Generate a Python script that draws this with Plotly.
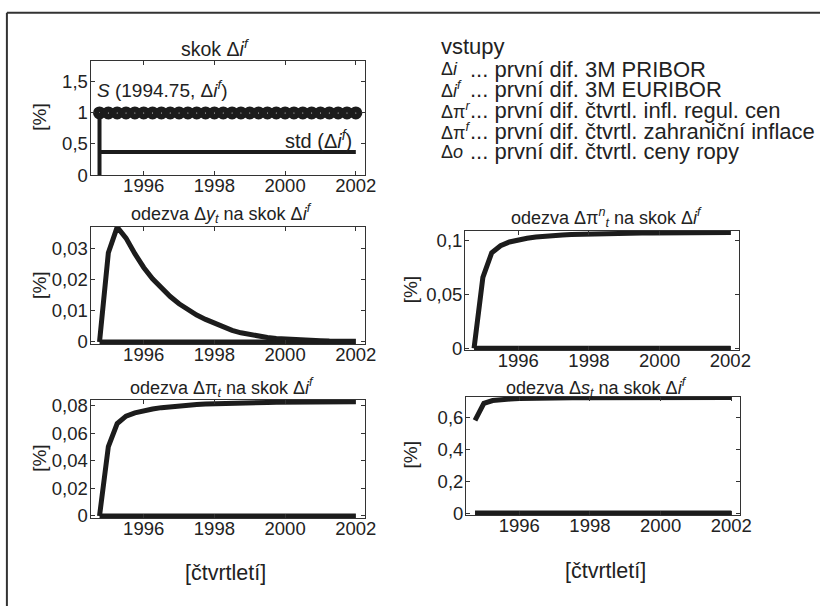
import plotly.graph_objects as go

W, H = 832, 616

# ---------------- data ----------------
quarters = [1994.75, 1995.0, 1995.25, 1995.5, 1995.75, 1996.0, 1996.25, 1996.5, 1996.75,
            1997.0, 1997.25, 1997.5, 1997.75, 1998.0, 1998.25, 1998.5, 1998.75, 1999.0,
            1999.25, 1999.5, 1999.75, 2000.0, 2000.25, 2000.5, 2000.75, 2001.0, 2001.25,
            2001.5, 2001.75, 2002.0]

shock_if = [1.0, 1.0, 1.0, 1.0, 1.0, 1.0, 1.0, 1.0, 1.0, 1.0, 1.0, 1.0, 1.0, 1.0, 1.0,
            1.0, 1.0, 1.0, 1.0, 1.0, 1.0, 1.0, 1.0, 1.0, 1.0, 1.0, 1.0, 1.0, 1.0, 1.0]
std_if = [0.37, 0.37, 0.37, 0.37, 0.37, 0.37, 0.37, 0.37, 0.37, 0.37, 0.37, 0.37, 0.37,
          0.37, 0.37, 0.37, 0.37, 0.37, 0.37, 0.37, 0.37, 0.37, 0.37, 0.37, 0.37, 0.37,
          0.37, 0.37, 0.37, 0.37]
baseline = [0.0, 0.0, 0.0, 0.0, 0.0, 0.0, 0.0, 0.0, 0.0, 0.0, 0.0, 0.0, 0.0, 0.0, 0.0,
            0.0, 0.0, 0.0, 0.0, 0.0, 0.0, 0.0, 0.0, 0.0, 0.0, 0.0, 0.0, 0.0, 0.0, 0.0]

resp_dy = [0.0, 0.0285, 0.0367, 0.0332, 0.0282, 0.0238, 0.0202, 0.0171, 0.0145, 0.0122,
           0.0102, 0.0086, 0.0072, 0.0059, 0.0047, 0.0037, 0.0029, 0.0023, 0.0018, 0.0014,
           0.0011, 0.0009, 0.0007, 0.0006, 0.0005, 0.0004, 0.0003, 0.0003, 0.0002, 0.0002]
resp_dpin = [0.0, 0.066, 0.089, 0.0955, 0.099, 0.101, 0.1025, 0.1036, 0.1045, 0.1051,
             0.1056, 0.106, 0.1063, 0.1066, 0.1068, 0.107, 0.1071, 0.1072, 0.1073, 0.1074,
             0.1075, 0.1075, 0.1076, 0.1076, 0.1077, 0.1077, 0.1077, 0.1078, 0.1078, 0.1078]
resp_dpi = [0.0, 0.0505, 0.0672, 0.0726, 0.0750, 0.0766, 0.0778, 0.0788, 0.0796, 0.0802,
            0.0807, 0.0811, 0.0814, 0.0817, 0.0819, 0.0821, 0.0823, 0.0824, 0.0825, 0.0826,
            0.0827, 0.0827, 0.0828, 0.0828, 0.0829, 0.0829, 0.0829, 0.083, 0.083, 0.083]
resp_ds = [0.580, 0.686, 0.704, 0.711, 0.714, 0.716, 0.718, 0.719, 0.720, 0.7205,
           0.721, 0.7215, 0.722, 0.7222, 0.7224, 0.7226, 0.7228, 0.723, 0.723, 0.723,
           0.7232, 0.7232, 0.7233, 0.7233, 0.7234, 0.7234, 0.7235, 0.7235, 0.7235, 0.7235]

x_tickvals = [1996, 1998, 2000, 2002]
x_ticktext = ["1996", "1998", "2000", "2002"]
y1_tickvals = [0, 0.5, 1, 1.5]
y1_ticktext = ["0", "0,5", "1", "1,5"]
y2_tickvals = [0, 0.01, 0.02, 0.03]
y2_ticktext = ["0", "0,01", "0,02", "0,03"]
y3_tickvals = [0, 0.05, 0.1]
y3_ticktext = ["0", "0,05", "0,1"]
y4_tickvals = [0, 0.02, 0.04, 0.06, 0.08]
y4_ticktext = ["0", "0,02", "0,04", "0,06", "0,08"]
y5_tickvals = [0, 0.2, 0.4, 0.6]
y5_ticktext = ["0", "0,2", "0,4", "0,6"]

titles = ["skok Δ<i>i<sup>f</sup></i>",
          "odezva Δ<i>y<sub>t</sub></i> na skok Δ<i>i<sup>f</sup></i>",
          "odezva Δπ<sup><i>n</i></sup><sub><i>t</i></sub> na skok Δ<i>i<sup>f</sup></i>",
          "odezva Δπ<sub><i>t</i></sub> na skok Δ<i>i<sup>f</sup></i>",
          "odezva Δ<i>s<sub>t</sub></i> na skok Δ<i>i<sup>f</sup></i>"]

legend_symbols = ["Δ<i>i</i>", "Δ<i>i<sup>f</sup></i>", "Δπ<sup><i>r</i></sup>",
                  "Δπ<sup><i>f</i></sup>", "Δ<i>o</i>"]
legend_texts = ["... první dif. 3M PRIBOR",
                "... první dif. 3M EURIBOR",
                "... první dif. čtvrtl. infl. regul. cen",
                "... první dif. čtvrtl. zahraniční inflace",
                "... první dif. čtvrtl. ceny ropy"]

# ---------------- styling ----------------
FONT = "Liberation Sans, Arial, Helvetica, sans-serif"
INK = "#1c1c1c"
TXT = "#222222"
LW = 5


def px(x):
    return x / W


def py(y):
    return 1 - y / H


fig = go.Figure()

# panel 1
fig.add_trace(go.Scatter(x=[quarters[0], quarters[0]], y=[baseline[0], shock_if[0]],
                         mode="lines", line=dict(color=INK, width=4),
                         xaxis="x", yaxis="y"))
fig.add_trace(go.Scatter(x=quarters, y=std_if, mode="lines",
                         line=dict(color=INK, width=4), xaxis="x", yaxis="y"))
fig.add_trace(go.Scatter(x=quarters, y=shock_if, mode="markers",
                         marker=dict(symbol="circle-open", size=7, color=INK,
                                     line=dict(color=INK, width=6)),
                         cliponaxis=False, xaxis="x", yaxis="y"))

# response panels
for resp, ax in [(resp_dy, "2"), (resp_dpin, "3"), (resp_dpi, "4"), (resp_ds, "5")]:
    fig.add_trace(go.Scatter(x=quarters, y=baseline, mode="lines",
                             line=dict(color=INK, width=LW),
                             xaxis="x" + ax, yaxis="y" + ax))
    fig.add_trace(go.Scatter(x=quarters, y=resp, mode="lines",
                             line=dict(color=INK, width=LW),
                             xaxis="x" + ax, yaxis="y" + ax))

# panel pixel boxes: (left, right, top, bottom)
boxes = {
    "1": (92, 370, 58, 175),
    "2": (92, 370, 228, 348),
    "3": (472, 750, 232, 354),
    "4": (92, 370, 405, 526),
    "5": (473, 751, 402, 523),
}
yranges = {
    "1": [0, 1.84],
    "2": [-0.0007, 0.0368],
    "3": [-0.0015, 0.1095],
    "4": [-0.0015, 0.0845],
    "5": [-0.013, 0.727],
}
yticks = {
    "1": (y1_tickvals, y1_ticktext),
    "2": (y2_tickvals, y2_ticktext),
    "3": (y3_tickvals, y3_ticktext),
    "4": (y4_tickvals, y4_ticktext),
    "5": (y5_tickvals, y5_ticktext),
}

axis_common = dict(showline=True, linecolor="#333333", linewidth=1.3, mirror="ticks",
                   ticks="inside", ticklen=4, tickwidth=1, tickcolor="#333333",
                   showgrid=False, zeroline=False,
                   tickfont=dict(family=FONT, size=18.5, color=TXT))

layout_axes = {}
for k, (l, r, t, b) in boxes.items():
    xname = "xaxis" if k == "1" else "xaxis" + k
    yname = "yaxis" if k == "1" else "yaxis" + k
    layout_axes[xname] = dict(domain=[px(l), px(r)], range=[1994.5, 2002.25],
                              anchor="y" if k == "1" else "y" + k,
                              tickvals=x_tickvals, ticktext=x_ticktext,
                              ticklabelstandoff=-6,
                              **axis_common)
    layout_axes[yname] = dict(domain=[py(b), py(t)], range=yranges[k],
                              anchor="x" if k == "1" else "x" + k,
                              tickvals=yticks[k][0], ticktext=yticks[k][1],
                              ticklabelstandoff=-2,
                              **axis_common)

annotations = []


def ann(text, x, y, xanchor="center", yanchor="middle", size=18, angle=0, xref="paper",
        yref="paper"):
    annotations.append(dict(text=text, x=x, y=y, xref=xref, yref=yref,
                            xanchor=xanchor, yanchor=yanchor, showarrow=False,
                            textangle=angle, borderpad=0,
                            font=dict(family=FONT, size=size, color=TXT)))


# panel titles
title_pos = [(218, 45), (225, 214), (615, 218), (225, 392), (605, 392)]
title_size = [19.5, 18, 18, 18, 18]
for t, (x, y), s in zip(titles, title_pos, title_size):
    ann(t, px(x), py(y), size=s)

# y-axis labels
for (x, y) in [(40, 116), (40, 288), (40, 465), (416, 293), (416, 462)]:
    ann("[%]", px(x), py(y), angle=-90, size=19)

# x-axis labels
ann("[čtvrtletí]", px(229), py(582), size=21.5)
ann("[čtvrtletí]", px(614), py(580), size=21.5)

# in-plot annotations panel 1
ann("<i>S</i> (1994.75, Δ<i>i<sup>f</sup></i>)", 1994.64, 1.38, xanchor="left",
    xref="x", yref="y", size=19)
ann("std (Δ<i>i<sup>f</sup></i>)", 2001.92, 0.57, xanchor="right", xref="x", yref="y",
    size=20)

# input list
ann("vstupy", px(446), py(44), xanchor="left", size=22)
row_y = [67, 88, 109, 130, 151]
for sym, txt, y in zip(legend_symbols, legend_texts, row_y):
    ann(sym, px(446), py(y), xanchor="left", size=18)
    ann(txt, px(476), py(y), xanchor="left", size=22)

shapes = [
    dict(type="line", xref="paper", yref="paper", x0=px(7), x1=1.0, y0=py(9), y1=py(9),
         line=dict(color="#333333", width=2)),
    dict(type="line", xref="paper", yref="paper", x0=px(7), x1=px(7), y0=py(9), y1=0.0,
         line=dict(color="#333333", width=2)),
]

fig.update_layout(width=W, height=H, margin=dict(l=0, r=0, t=0, b=0),
                  paper_bgcolor="white", plot_bgcolor="white", showlegend=False,
                  annotations=annotations, shapes=shapes, **layout_axes)

post = (
    "var de=document.documentElement, bd=document.body;"
    "[de, bd].forEach(function(e){e.style.margin='0';e.style.padding='0';"
    "e.style.overflow='hidden';});"
)

fig.write_html("out.html", config={"displayModeBar": False}, post_script=post)
